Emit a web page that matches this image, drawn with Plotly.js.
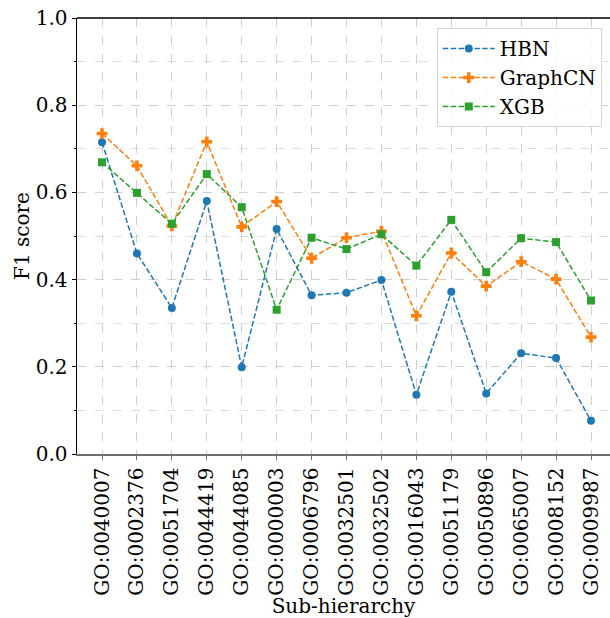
<!DOCTYPE html>
<html>
<head>
<meta charset="utf-8">
<script src="https://cdn.plot.ly/plotly-3.0.1.min.js"></script>
<style>html,body{margin:0;padding:0;overflow:hidden;background:#fff}</style>
</head>
<body>
<div id="chart" style="width:610px;height:618px"></div>
<script>
const categories = ["GO:0040007","GO:0002376","GO:0051704","GO:0044419","GO:0044085","GO:0000003","GO:0006796","GO:0032501","GO:0032502","GO:0016043","GO:0051179","GO:0050896","GO:0065007","GO:0008152","GO:0009987"];
const hbn     = [0.715,0.460,0.335,0.580,0.199,0.516,0.364,0.370,0.399,0.136,0.372,0.139,0.231,0.220,0.076];
const graphcn = [0.735,0.661,0.523,0.716,0.521,0.579,0.449,0.496,0.511,0.317,0.461,0.385,0.441,0.401,0.268];
const xgb     = [0.669,0.599,0.528,0.642,0.566,0.331,0.496,0.470,0.504,0.432,0.537,0.417,0.495,0.486,0.352];
const seriesNames = ["HBN","GraphCN","XGB"];

const colors = ["#1f77b4","#ff7f0e","#2ca02c"];
const symbols = ["circle","cross","square"];
const sizes = [8,9,8];
const data = [hbn, graphcn, xgb].map((ys,i)=>({
  type:"scatter", mode:"lines+markers", name:seriesNames[i],
  x:categories.map((c,j)=>j), y:ys,
  line:{color:colors[i], width:1.5, dash:"5.5px,2.4px"},
  marker:{color:colors[i], symbol:symbols[i], size:sizes[i], line:{width:0}}
}));

const font = "'DejaVu Serif'";
const fs = 20;
const layout = {
  width:610, height:618,
  margin:{l:77, r:0, t:18, b:164},
  paper_bgcolor:"#fff", plot_bgcolor:"#fff",
  font:{family:font, size:fs, color:"#000"},
  showlegend:true,
  legend:{x:0.675, y:0.977, xanchor:"left", yanchor:"top",
    bgcolor:"rgba(255,255,255,0.8)", bordercolor:"#d6d6d6", borderwidth:1,
    font:{family:font, size:fs}, tracegroupgap:0, itemwidth:52},
  xaxis:{
    tickmode:"array", tickvals:categories.map((c,j)=>j), ticktext:categories,
    range:[-0.716, 14.544], tickangle:-90,
    showgrid:true, gridcolor:"#cfcfcf", griddash:"dash", gridwidth:1,
    showline:true, linecolor:"#6e6e6e", linewidth:1.5,
    ticks:"outside", ticklen:4, tickwidth:1, tickcolor:"#6e6e6e",
    tickfont:{family:font, size:fs}, zeroline:false,
    title:{text:"Sub-hierarchy", font:{family:font, size:fs}, standoff:1}
  },
  yaxis:{
    range:[0,1], dtick:0.2, tickformat:".1f",
    showgrid:true, gridcolor:"#cfcfcf", griddash:"dash", gridwidth:1,
    showline:true, linecolor:"#000", linewidth:1.5,
    ticks:"outside", ticklen:4, tickwidth:1, tickcolor:"#000",
    tickfont:{family:font, size:fs}, zeroline:false,
    minor:{dtick:0.1, showgrid:true, gridcolor:"#dedede", griddash:"dash", ticks:"outside", ticklen:2, tickcolor:"#000"},
    title:{text:"F1 score", font:{family:font, size:fs}, standoff:0}
  },
  shapes:[{type:"line", xref:"paper", yref:"paper", x0:0, x1:1, y0:1, y1:1, line:{color:"#000", width:1.5}}]
};
Plotly.newPlot("chart", data, layout, {staticPlot:true});
</script>
</body>
</html>
